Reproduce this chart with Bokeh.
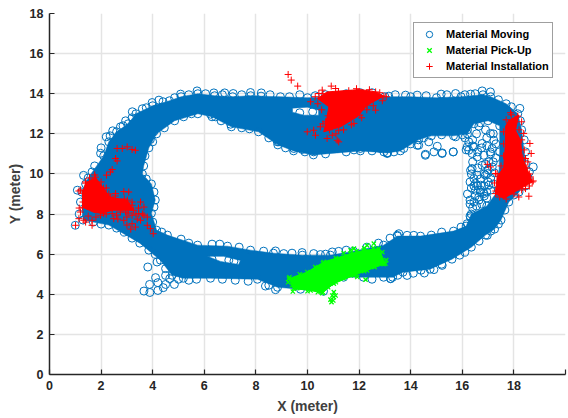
from bokeh.plotting import figure
from bokeh.embed import file_html
from bokeh.resources import INLINE
from bokeh.models import Legend, LegendItem, FixedTicker, Label

# Dense core of the moving track: outline of the saturated region
core_x = [1.3,1.25,1.5,2.1,2.3,2.6,3.05,3.35,4.0,4.65,5.1,5.75,6.4,7.1,7.8,8.2,8.95,10,11,12.05,13,14,15,15.95,16.8,17.1,17.7,18.15,18.3,18.45,18.55,18.2,17.8,17.5,17.25,16.9,16.35,15.6,14.75,13.7,13.3,12.17,11.4,10.62,9.73,8.84,8.06,6.24,5.19,4.75,4.3,3.5,2.3]
core_y = [7.7,9.1,9.8,10.9,11.6,12.1,12.5,13.0,13.4,13.65,13.85,14.0,13.9,13.85,13.9,13.88,13.85,13.8,13.85,14.05,13.85,13.85,13.8,13.85,13.95,13.85,13.5,13.0,12.2,10.5,9.8,9.1,8.6,7.7,7.25,6.95,6.35,5.75,5.25,5.1,4.85,4.85,4.85,4.15,4.25,4.35,4.75,4.8,4.8,4.95,5.7,6.55,7.45]
hole_x = [3.65,3.85,4.15,4.85,5.75,6.3,7.05,8.1,8.85,9.46,10.23,12.05,13.1,13.6,14.3,14.8,15.66,16.2,16.45,17.0,17.45,17.45,17.4,16.95,16.35,16.15,15.66,14.38,13.49,12.95,11.78,10.89,9.8,8.68,7.79,6.9,5.74,4.57,4.15,3.95,4.1,3.95,3.6]
hole_y = [10.4,11.3,12.0,12.65,13.0,12.85,12.35,12.1,11.45,11.15,10.95,11.15,11.05,11.15,11.7,11.9,11.9,12.0,12.5,12.65,12.4,11.1,9.2,8.4,8.0,7.4,7.15,6.9,6.9,6.45,6.15,5.95,5.95,6.05,6.2,6.4,6.45,6.95,7.2,8.04,8.7,9.5,10.0]
slit_a_x = [9.42,10.0,10.43,10.43,9.85,9.42]
slit_a_y = [13.28,13.33,13.18,12.93,12.93,13.08]
slit_b_x = [6.12,6.74,7.4,7.33,6.63]
slit_b_y = [5.89,5.89,5.69,5.49,5.64]

# Individual rings readable on the rim and outside the core
moving_x = [1.0,1.08,1.32,1.98,3.81,3.88,4.11,4.2,3.66,3.89,4.2,4.41,4.5,4.66,4.84,4.5,4.5,4.17,
            15.74,15.65,15.22,16.64,16.19,16.38,16.45,16.25,16.77,17.09,17.22,17.16,16.32,16.58,16.45,16.71,16.51,16.83,16.64,16.97,16.77,17.03,16.83,16.58,17.09,16.9,17.03,17.16,18.23,18.75,
            14.7,15.03,14.57,14.9,15.22,15.65,13.09,12.83,14.31,13.73,16.25,16.38,
            8.76,9.08,9.79,9.99,10.24,10.5,10.96,11.21,13.22,13.48,13.86,8.76,8.37,
            8.89,9.47,9.79,10.24,12.83,13.09,12.96,14.57,14.25,11.15,12.05,
            2.45,2.95,3.21,3.98,4.24,5.08,5.72,6.37,6.79,7.12,7.79,8.21,7.02,6.24,6.43,8.83,8.44,4.04,3.91,3.53,
            13.8,14.25,15.18,15.74,16.77,17.09,16.32,13.15,
            13.54,14.12,13.22,13.86,14.53,14.9,15.22,16.19,16.45,16.32,16.97,16.51,16.71,
            6.3,6.95,7.15,9.7,10.2]
moving_y = [7.44,9.19,9.93,11.03,5.36,4.49,4.83,4.58,4.16,4.09,4.19,4.33,4.49,4.78,4.49,4.94,5.28,5.61,
            11.85,11.1,11.02,12.38,11.35,11.02,11.35,11.6,11.52,12.02,11.68,11.27,10.18,9.94,9.77,9.44,9.19,9.02,8.85,10.02,10.43,10.6,10.93,10.85,11.1,9.94,9.44,10.35,13.27,10.35,
            11.6,11.38,10.98,11.1,11.05,11.1,11.05,11.32,11.43,11.27,11.18,10.27,
            6.16,6.03,6.08,5.73,6.03,5.98,6.11,6.14,4.78,6.94,6.94,4.23,4.41,
            11.6,11.27,11.22,11.1,11.27,11.02,11.1,10.93,11.43,11.27,11.27,
            12.15,12.65,13.1,13.56,13.68,13.98,14.14,14.04,14.04,14.01,14.06,14.04,12.48,12.98,12.85,11.6,12.1,12.1,11.72,10.77,
            13.93,13.93,13.98,14.01,14.14,14.09,13.98,13.88,
            7.02,6.94,4.78,4.94,5.06,5.23,5.44,7.52,8.6,7.82,6.94,9.52,9.19,
            5.75,5.7,5.65,13.05,13.1]
rim_outer_x = [1.4,1.2,1.15,1.75,1.65,2.0,2.2,2.35,2.75,2.85,3.2,3.6,3.75,4.4,4.85,5.4,6.05,6.7,7.45,8.55,9.3,9.7,10.3,10.7,11.5,12.5,13.4,14.6,15.4,16.1,16.5,17.4,17.9,18.25,18.4,18.45,18.6,18.45,18.0,17.65,17.4,17.1,16.65,16.1,15.9,15.2,14.4,14.1,13.5,12.95,12.5,8.5,7.7,7.2,6.7,5.7,5.4,5.0,4.1,3.85,3.2,2.9,2.6,2.0,1.7]
rim_outer_y = [9.5,8.6,8.0,10.4,10.1,11.3,11.85,11.9,12.35,12.4,12.8,13.25,13.3,13.6,13.8,13.95,14.0,13.95,13.95,13.95,13.85,13.95,13.9,13.95,14.0,14.05,13.95,13.9,13.95,13.95,14.0,13.7,13.35,12.65,11.7,11.1,10.1,9.4,8.95,8.2,7.5,7.15,6.65,6.1,5.95,5.5,5.2,5.05,4.95,4.85,4.75,4.45,4.65,4.7,4.75,4.75,4.7,4.75,6.0,6.2,6.8,7.1,7.3,7.5,7.6]
rim_inner_x = [3.7,4.0,4.45,5.2,5.5,6.65,7.45,7.75,8.5,9.15,9.9,10.7,11.5,11.8,12.5,13.35,14.0,14.5,15.2,16.0,16.2,16.7,5.1,5.4,6.3,6.6,7.35,8.3,9.4,10.7,11.5,12.3,12.75,13.2,14.8,15.2,15.95,16.3,4.35,4.0,4.05,4.05,3.75]
rim_inner_y = [10.9,11.6,12.3,12.85,13.0,12.65,12.3,12.25,11.8,11.3,11.1,11.0,11.1,11.2,11.15,11.1,11.5,11.8,11.95,11.95,12.2,12.55,6.75,6.55,6.5,6.5,6.35,6.15,6.05,6.0,6.2,6.35,6.55,6.8,6.95,7.1,7.35,7.9,7.1,7.6,8.35,9.1,9.75]
right_x = [17.2,16.9,17.3,17.3,17.25,17.2,17.1,16.85,16.95,16.75,16.4,16.5,16.3,16.4,16.6,16.9,16.7,16.3,16.55,16.4,16.1,
           16.2,16.6,16.85,17.0,17.1,16.45,16.6,16.75,16.95,16.95,17.1,17.0,16.35,16.7,16.85,16.55,16.65,16.3,16.35,17.2,16.95,16.4,16.15]
right_y = [12.0,12.2,11.5,10.8,10.05,9.5,9.2,9.4,8.8,8.5,8.3,8.9,9.6,10.6,11.1,10.5,9.75,8.7,12.0,11.7,11.8,
           9.0,9.4,10.0,10.2,9.8,9.4,10.3,11.3,11.4,11.8,11.0,9.6,10.0,9.1,8.9,8.4,8.7,8.5,9.3,10.6,9.1,11.4,11.2]

# Saturated pick-up region and its separate crosses
pick_core_x = [9.28,9.99,10.63,11.67,12.18,12.76,13.02,12.31,11.8,11.02,10.57,10.12,9.47]
pick_core_y = [4.78,5.11,5.61,6.03,6.19,6.28,5.53,5.19,4.94,4.53,4.06,4.19,4.28]
pick_x = [9.43,10.96,11.02,10.93,11.09,10.89,12.31,12.57,11.93,12.25,12.76,11.67,11.8,10.76,11.02,11.0,9.28,9.99,10.63,11.67,12.18,12.76,13.02,12.31,11.8,11.02,10.57,10.12,9.47,
          9.3,9.25,9.4,9.7,9.6,10.0,10.4,10.3,10.6,11.1,11.4,11.9,12.2,12.55,12.9,13.05,12.95,12.6,12.2,11.9,11.4,11.1,10.8,10.6]
pick_y = [4.14,3.94,3.86,3.61,3.94,3.73,6.44,6.53,4.86,4.73,5.94,6.19,6.28,5.61,4.11,3.69,4.78,5.11,5.61,6.03,6.19,6.28,5.53,5.19,4.94,4.53,4.06,4.19,4.28,
          4.85,4.6,4.45,5.0,4.3,4.15,4.1,5.35,5.55,5.8,6.05,6.15,6.3,6.3,6.1,5.7,5.5,5.35,5.15,5.0,4.8,4.6,4.35,4.1]

# Saturated installation regions and their separate plus marks
inst_left_x = [1.78,2.09,2.36,3.02,3.26,2.48,1.98,1.71,1.28,1.28,1.4]
inst_left_y = [9.84,9.29,8.84,8.69,8.19,8.19,8.04,8.09,8.34,9.04,9.54]
inst_top_x = [10.38,10.76,12.05,12.64,12.96,12.31,11.93,11.28,10.63,10.76,10.83]
inst_top_y = [13.76,14.09,14.21,14.09,13.88,13.43,12.85,12.35,12.1,12.85,13.35]
inst_right_x = [17.8,18.19,18.06,18.26,18.32,18.64,18.71,18.26,17.61,17.29,17.35,17.61,17.67,17.67]
inst_right_y = [12.68,12.93,12.18,11.68,10.85,9.85,9.6,9.27,8.77,9.02,9.85,10.35,11.52,12.35]
inst_x = [1.14,1.2,1.14,1.01,1.33,1.65,1.65,1.98,2.49,2.43,2.88,3.07,3.2,3.53,3.66,3.2,3.33,3.2,3.53,3.66,3.79,3.79,3.91,4.02,2.62,2.82,3.01,3.2,3.33,2.56,2.62,2.43,2.36,2.21,2.88,2.56,2.75,3.46,2.95,2.1,1.4,
          9.25,9.37,9.62,10.12,9.99,10.24,10.31,10.5,10.76,10.96,11.15,11.21,11.21,10.7,11.15,11.8,12.03,12.64,10.92,11.09,10.44,10.57,
          17.87,18.15,18.62,18.67,18.45,18.54,16.97,17.09,17.29,18.19,18.58,18.38,17.48,17.74,18.45,
          1.78,2.09,2.36,3.02,3.26,1.28,1.28,1.4,12.96,12.64,12.31,17.29,18.71,18.64,
          1.2,1.3,1.15,1.5,1.8,2.2,2.6,2.75,3.05,3.35,3.45,3.2,2.9,2.55,2.3,2.2,2.0,1.75,1.55,1.4,2.8,3.0,2.65,3.4,3.6,3.0,3.15,
          10.3,10.4,10.55,10.8,10.6,10.85,11.1,11.4,11.7,12.1,12.3,12.55,12.9,13.05,12.8,12.4,11.6,11.2,10.6,11.9,
          17.7,17.9,18.3,18.2,18.3,18.4,18.35,18.5,18.6,18.75,18.6,18.3,18.0,17.7,17.45,17.3,17.25,17.35,17.5,17.6,17.6,17.6]
inst_y = [9.15,8.1,7.77,7.44,7.69,7.44,7.69,7.94,7.77,8.02,7.69,9.1,8.44,8.6,8.35,7.94,7.35,7.52,7.69,7.94,7.85,7.44,7.27,7.02,11.27,11.27,11.35,11.22,11.18,10.77,10.65,10.22,10.1,9.94,9.12,9.02,8.44,8.02,8.1,8.02,7.6,
          14.96,14.68,14.38,13.6,12.1,12.18,11.93,12.35,11.77,11.93,11.68,11.6,12.18,12.6,12.77,12.52,12.93,13.18,14.38,14.26,14.01,14.18,
          13.05,12.88,11.52,11.02,10.77,10.6,10.48,10.35,10.02,8.85,8.89,12.02,9.19,10.6,9.27,
          9.84,9.29,8.84,8.69,8.19,8.34,9.04,9.54,13.88,14.09,13.43,9.02,9.6,9.85,
          9.2,8.6,8.3,7.9,7.85,8.0,7.95,8.1,8.05,8.0,8.3,8.6,8.75,8.9,9.0,9.3,9.6,9.95,9.8,9.6,8.3,7.85,7.75,7.75,8.0,7.45,7.25,
          13.85,13.5,13.2,12.9,12.5,12.2,12.0,12.2,12.45,12.8,13.2,13.4,13.65,13.85,14.05,14.2,14.15,14.1,14.0,14.25,
          12.7,12.95,12.6,12.2,11.7,11.2,10.8,10.3,10.0,9.65,9.4,9.2,9.0,8.75,8.85,9.15,9.55,10.0,10.4,10.9,11.5,12.1]

x_ticks = list(range(0, 21, 2))
y_ticks = list(range(0, 19, 2))
labels = ["Material Moving", "Material Pick-Up", "Material Installation"]
BLUE, GREEN, RED = "#0072BD", "#00FF00", "#FF0000"

p = figure(width=568, height=418, output_backend="svg", toolbar_location=None,
           x_range=(0, 20), y_range=(0, 18),
           min_border_left=49, min_border_right=3, min_border_top=13, min_border_bottom=44,
           background_fill_color="white", border_fill_color="white")
p.outline_line_color = None

for ax, ticks in ((p.xaxis[0], x_ticks), (p.yaxis[0], y_ticks)):
    ax.ticker = FixedTicker(ticks=ticks)
    ax.major_tick_in = 5
    ax.major_tick_out = 0
    ax.minor_tick_line_color = None
    ax.axis_line_color = "#262626"
    ax.axis_line_width = 1.5
    ax.major_tick_line_color = "#262626"
    ax.major_tick_line_width = 1.2
    ax.major_label_text_font = "Liberation Sans"
    ax.major_label_text_font_style = "bold"
    ax.major_label_text_font_size = "12.5px"
    ax.major_label_text_color = "#262626"
    ax.axis_label_text_font = "Liberation Sans"
    ax.axis_label_text_font_style = "bold"
    ax.axis_label_text_font_size = "14px"
    ax.axis_label_text_color = "#404040"
p.xaxis.axis_label = "X (meter)"
p.yaxis.axis_label = "Y (meter)"
p.xaxis.major_label_standoff = 6
p.yaxis.major_label_standoff = 6
p.xaxis.axis_label_standoff = 5
p.yaxis.axis_label_standoff = 4
p.xaxis.major_label_overrides = {20: ""}
p.grid.grid_line_color = "#E4E4E4"
p.grid.grid_line_width = 1.5

p.add_layout(Label(x=20, y=0, x_offset=2, y_offset=-20, text="20", text_align="right",
                   text_font="Liberation Sans", text_font_style="bold", text_font_size="12.5px",
                   text_color="#262626"))

p.multi_polygons(xs=[[[core_x, hole_x, slit_a_x, slit_b_x]]], ys=[[[core_y, hole_y, slit_a_y, slit_b_y]]],
                 fill_color=BLUE, line_color=BLUE, line_width=0.5)
moving = p.scatter(moving_x + core_x + hole_x + rim_outer_x + rim_inner_x + right_x,
                   moving_y + core_y + hole_y + rim_outer_y + rim_inner_y + right_y,
                   marker="circle", size=8, fill_color=None, line_color=BLUE, line_width=1)

p.patch(pick_core_x, pick_core_y, fill_color=GREEN, line_color=GREEN, line_width=1)
pick = p.scatter(pick_x, pick_y, marker="x", size=6, fill_color=GREEN, line_color=GREEN, line_width=1.3)

for cx, cy in ((inst_left_x, inst_left_y), (inst_top_x, inst_top_y), (inst_right_x, inst_right_y)):
    p.patch(cx, cy, fill_color=RED, line_color=RED, line_width=1)
inst = p.scatter(inst_x, inst_y, marker="cross", size=7, fill_color=RED, line_color=RED, line_width=1)

legend = Legend(items=[LegendItem(label=labels[0], renderers=[moving]),
                       LegendItem(label=labels[1], renderers=[pick]),
                       LegendItem(label=labels[2], renderers=[inst])],
                location=(364, 296), padding=3, margin=0, spacing=0,
                glyph_width=24, glyph_height=16, label_height=16, label_standoff=5,
                label_text_font="Liberation Sans", label_text_font_style="bold",
                label_text_font_size="11px", label_text_color="#000000",
                border_line_color="#404040", border_line_width=1,
                background_fill_color="white", background_fill_alpha=1)
p.add_layout(legend, "center")

open("out.html", "w").write(file_html(p, INLINE))
